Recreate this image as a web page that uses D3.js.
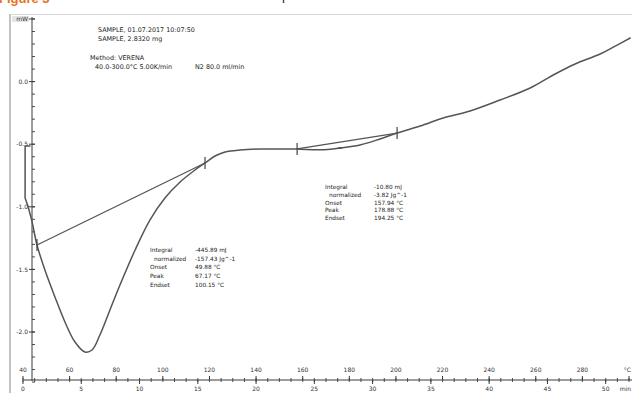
<!DOCTYPE html>
<html>
<head>
<meta charset="utf-8">
<script src="https://cdn.jsdelivr.net/npm/d3@7"></script>
<style>
  html, body { margin: 0; padding: 0; background: #fff; }
  svg { display: block; font-family: "DejaVu Sans", "Liberation Sans", Arial, sans-serif; }
</style>
</head>
<body>
<svg id="chart" width="632" height="393"></svg>
<script>
// DSC heating run: temperature (°C) vs heat flow (mW)
const temperature = [40.9, 40.9, 42.1, 43.9, 46.0, 49.4, 53.7, 58.0, 62.3, 66.6, 69.6, 73.0, 77.3, 81.6,
  88.1, 94.5, 100.9, 107.4, 113.8, 118.1, 122.4, 126.7, 133.1, 141.7, 150.3, 157.6, 167.5, 176.1,
  184.6, 193.2, 200.5, 210.4, 220.3, 231.8, 244.7, 257.6, 268.3, 276.9, 287.6, 294.1, 300.5];
const heatFlow = [-0.514, -0.930, -0.994, -1.121, -1.305, -1.505, -1.720, -1.920, -2.080, -2.160, -2.144, -2.024, -1.824, -1.625,
  -1.345, -1.105, -0.930, -0.802, -0.706, -0.650, -0.594, -0.562, -0.546, -0.538, -0.538, -0.538, -0.545, -0.530,
  -0.506, -0.458, -0.411, -0.355, -0.291, -0.235, -0.147, -0.051, 0.061, 0.141, 0.220, 0.284, 0.348];
const startTemp = 43.0, startFlow = -0.514;

// integration limits (baseline end points) for the two evaluated effects
const baselineTemps = [[46.0, 118.1], [157.6, 200.5]];
const baselineFlows = [[-1.305, -0.650], [-0.538, -0.411]];
const peakMarkTemp = 176.1, peakMarkFlow = -0.530;

const yTicks = [0.0, -0.5, -1.0, -1.5, -2.0];
const tempTicks = [40, 60, 80, 100, 120, 140, 160, 180, 200, 220, 240, 260, 280];
const timeTicks = [0, 5, 10, 15, 20, 25, 30, 35, 40, 45, 50];
const heatingRate = 5; // K/min
const startTemperature = 40;

const headerLines = ["SAMPLE, 01.07.2017 10:07:50", "SAMPLE, 2.8320 mg"];
const methodLines = ["Method: VERENA"];
const methodDetail = ["40.0-300.0°C 5.00K/min", "N2 80.0 ml/min"];

const evalLabels = ["Integral", "normalized", "Onset", "Peak", "Endset"];
const evalValues1 = ["-445.89 mJ", "-157.43 Jg^-1", "49.88 °C", "67.17 °C", "100.15 °C"];
const evalValues2 = ["-10.80 mJ", "-3.82 Jg^-1", "157.94 °C", "178.88 °C", "194.25 °C"];

const svg = d3.select("#chart");
const ink = "#3a3a3a";

const x = d3.scaleLinear().domain([40, 300]).range([23, 629]);
const y = d3.scaleLinear().domain([0.5, -2.0]).range([19, 332]);
const xTime = d3.scaleLinear().domain([0, 52]).range([x(startTemperature), x(startTemperature + 52 * heatingRate)]);

// figure caption running off the top edge
svg.append("text").attr("x", -1).attr("y", 2.5).attr("fill", "#e8711c")
  .attr("font-family", "Liberation Sans, Arial, sans-serif")
  .attr("font-size", 13).attr("font-weight", "bold").text("Figure 3");
svg.append("text").attr("x", 108).attr("y", -0.5).attr("fill", "#222")
  .attr("font-family", "Liberation Sans, Arial, sans-serif")
  .attr("font-size", 13).text("DSC thermal curve of the sample");

// frame
svg.append("line").attr("x1", 10).attr("x2", 10).attr("y1", 14).attr("y2", 393)
  .attr("stroke", "#9a9a9a").attr("stroke-width", 1.2);
svg.append("line").attr("x1", 10).attr("x2", 632).attr("y1", 14.5).attr("y2", 14.5)
  .attr("stroke", "#d8d8d8").attr("stroke-width", 1);

// y axis
const yAxisX = 32;
svg.append("line").attr("x1", yAxisX).attr("x2", yAxisX).attr("y1", 17).attr("y2", 381)
  .attr("stroke", ink).attr("stroke-width", 1);
const minorY = d3.range(0.5, -2.41, -0.1);
svg.append("g").selectAll("line").data(minorY).join("line")
  .attr("x1", yAxisX).attr("x2", yAxisX + 3)
  .attr("y1", d => y(d)).attr("y2", d => y(d))
  .attr("stroke", ink).attr("stroke-width", 0.9);
svg.append("g").selectAll("line").data(yTicks.concat([0.5])).join("line")
  .attr("x1", yAxisX - 3).attr("x2", yAxisX + 3)
  .attr("y1", d => y(d)).attr("y2", d => y(d))
  .attr("stroke", ink).attr("stroke-width", 1);
svg.append("g").selectAll("text").data(yTicks).join("text")
  .attr("x", yAxisX - 4).attr("y", d => y(d) + 2.2)
  .attr("text-anchor", "end").attr("font-size", 6).attr("fill", "#333")
  .text(d => d3.format(".1f")(d).replace("−", "-"));
svg.append("rect").attr("x", 12).attr("y", 16).attr("width", 17).attr("height", 6)
  .attr("fill", "#e4e4e4");
svg.append("text").attr("x", yAxisX - 4).attr("y", 21.2).attr("text-anchor", "end")
  .attr("font-size", 6).attr("fill", "#333").text("mW");

// x axis: temperature above, time below
const axisY = 380;
svg.append("line").attr("x1", 24).attr("x2", 632).attr("y1", axisY).attr("y2", axisY)
  .attr("stroke", ink).attr("stroke-width", 1);
const minorTime = d3.range(0, 53, 1);
svg.append("g").selectAll("line").data(minorTime).join("line")
  .attr("x1", d => xTime(d)).attr("x2", d => xTime(d))
  .attr("y1", axisY - 2).attr("y2", axisY + 2)
  .attr("stroke", ink).attr("stroke-width", 0.9);
svg.append("g").selectAll("line").data(tempTicks.concat([300])).join("line")
  .attr("x1", d => x(d)).attr("x2", d => x(d))
  .attr("y1", axisY - 4).attr("y2", axisY)
  .attr("stroke", ink).attr("stroke-width", 1);
svg.append("g").selectAll("line").data(timeTicks).join("line")
  .attr("x1", d => xTime(d)).attr("x2", d => xTime(d))
  .attr("y1", axisY).attr("y2", axisY + 4)
  .attr("stroke", ink).attr("stroke-width", 1);
svg.append("g").selectAll("text").data(tempTicks).join("text")
  .attr("x", d => x(d)).attr("y", axisY - 8)
  .attr("text-anchor", "middle").attr("font-size", 6).attr("fill", "#333")
  .text(d => d);
svg.append("text").attr("x", 631).attr("y", axisY - 8).attr("text-anchor", "end")
  .attr("font-size", 6).attr("fill", "#333").text("°C");
svg.append("g").selectAll("text").data(timeTicks).join("text")
  .attr("x", d => xTime(d)).attr("y", axisY + 11)
  .attr("text-anchor", "middle").attr("font-size", 6).attr("fill", "#333")
  .text(d => d);
svg.append("text").attr("x", 631).attr("y", axisY + 11).attr("text-anchor", "end")
  .attr("font-size", 6).attr("fill", "#333").text("min");

// measured curve: start-up transient drawn straight, the rest smoothed
const pts = [[startTemp, startFlow]].concat(temperature.map((t, i) => [t, heatFlow[i]]));
const straight = d3.line().x(d => x(d[0])).y(d => y(d[1]));
const smooth = d3.line().x(d => x(d[0])).y(d => y(d[1])).curve(d3.curveCatmullRom.alpha(0.5));
svg.append("defs").append("clipPath").attr("id", "plotClip")
  .append("rect").attr("x", 20).attr("y", 15).attr("width", 612).attr("height", 362);
const curveStyle = p => p.attr("clip-path", "url(#plotClip)")
  .attr("fill", "none").attr("stroke", "#555").attr("stroke-width", 1.5)
  .attr("stroke-linejoin", "round").attr("stroke-linecap", "round");
svg.append("path").datum(pts.slice(0, 4)).attr("d", straight).call(curveStyle);
svg.append("path").datum(pts.slice(3)).attr("d", smooth).call(curveStyle);

// integration baselines and limit marks
baselineTemps.forEach((bt, i) => {
  const bf = baselineFlows[i];
  svg.append("line")
    .attr("x1", x(bt[0])).attr("y1", y(bf[0])).attr("x2", x(bt[1])).attr("y2", y(bf[1]))
    .attr("stroke", "#555").attr("stroke-width", 1.3);
  bt.forEach((t, j) => {
    svg.append("line")
      .attr("x1", x(t)).attr("x2", x(t))
      .attr("y1", y(bf[j]) - 6).attr("y2", y(bf[j]) + 6)
      .attr("stroke", "#444").attr("stroke-width", 1.2);
  });
});
svg.append("line").attr("x1", x(peakMarkTemp) - 2).attr("x2", x(peakMarkTemp) + 2)
  .attr("y1", y(peakMarkFlow)).attr("y2", y(peakMarkFlow))
  .attr("stroke", "#444").attr("stroke-width", 1.2);

// sample / method header
const hdr = svg.append("g").attr("font-size", 6.4).attr("fill", "#222");
headerLines.forEach((s, i) => hdr.append("text").attr("x", 98).attr("y", 32 + i * 9).text(s));
methodLines.forEach((s, i) => hdr.append("text").attr("x", 90).attr("y", 60 + i * 9).text(s));
hdr.append("text").attr("x", 95).attr("y", 69).text(methodDetail[0]);
hdr.append("text").attr("x", 195).attr("y", 69).text(methodDetail[1]);

// evaluation results
function evalBlock(x0, xv, y0, dy, values) {
  const g = svg.append("g").attr("font-size", 5.8).attr("fill", "#222");
  evalLabels.forEach((s, i) => g.append("text")
    .attr("x", i === 1 ? x0 + 4 : x0).attr("y", y0 + i * dy).text(s));
  values.forEach((s, i) => g.append("text").attr("x", xv).attr("y", y0 + i * dy).text(s));
}
evalBlock(150, 195, 252, 8.7, evalValues1);
evalBlock(325, 374, 189, 7.8, evalValues2);
</script>
</body>
</html>
